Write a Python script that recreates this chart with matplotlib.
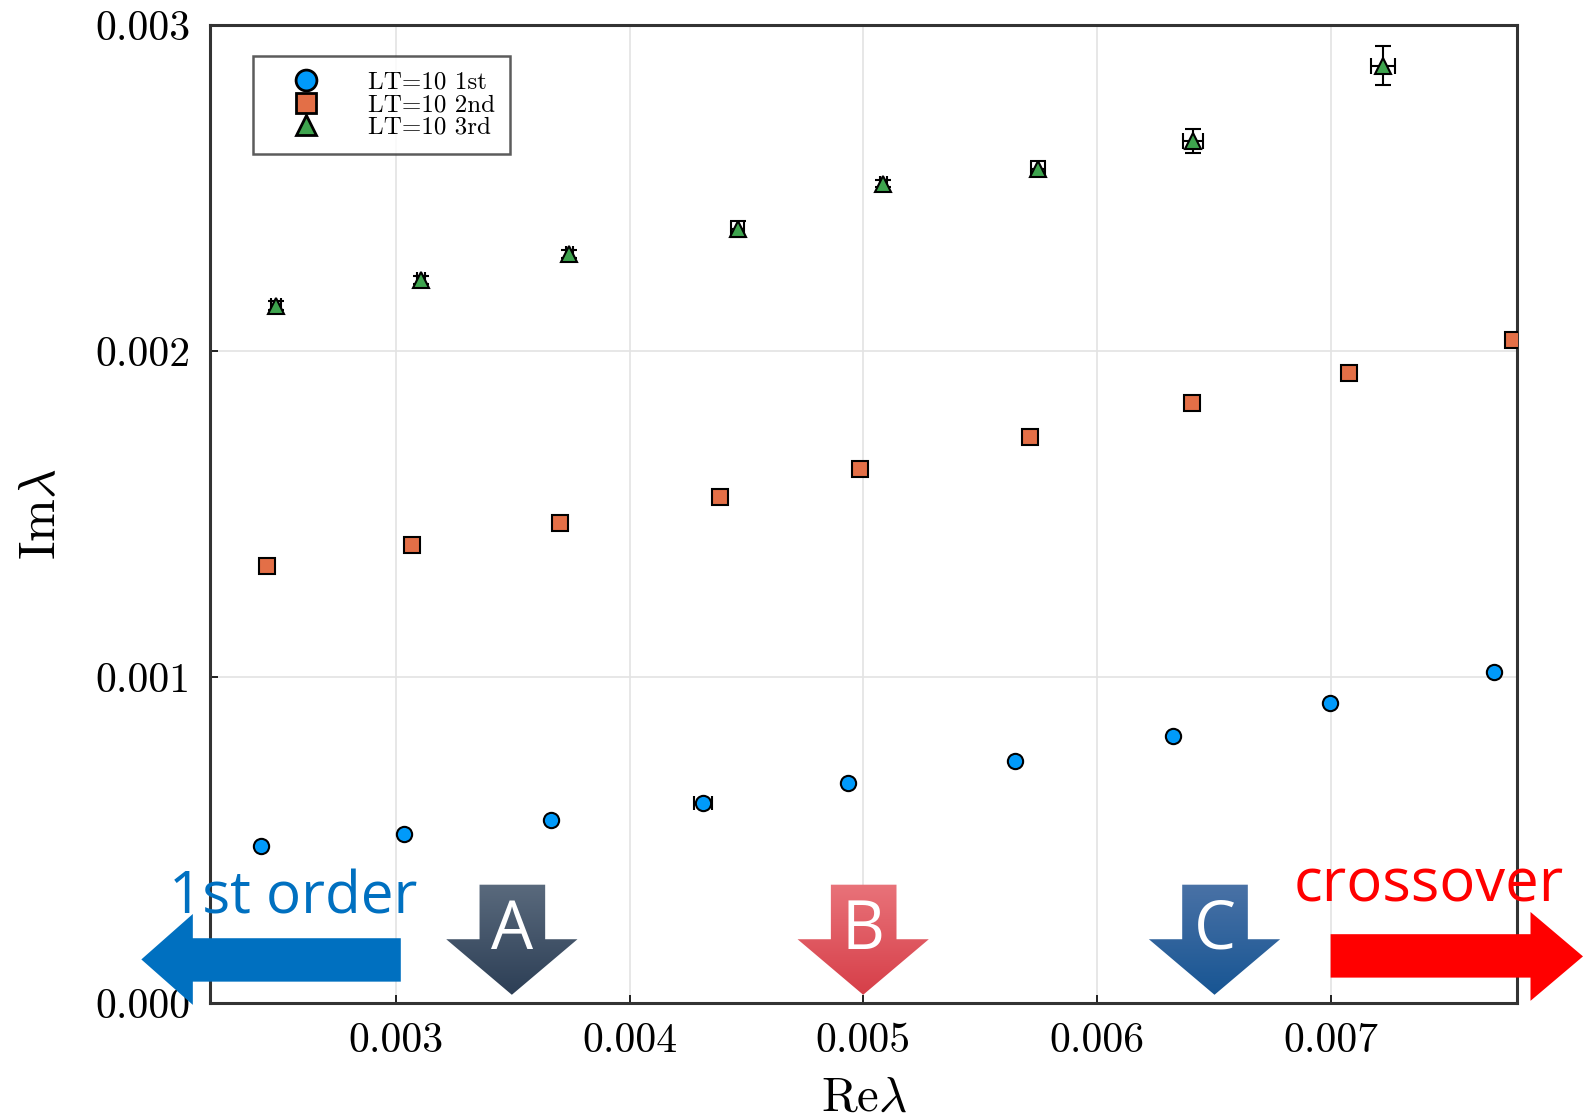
import numpy as np
import matplotlib
matplotlib.use('Agg')
import matplotlib.pyplot as plt
from matplotlib.patches import Polygon
from matplotlib.lines import Line2D
from matplotlib.ticker import FormatStrFormatter

plt.rcParams['font.family'] = 'serif'
plt.rcParams['font.serif'] = ['cmr10', 'DejaVu Serif']
plt.rcParams['mathtext.fontset'] = 'cm'
plt.rcParams['axes.formatter.use_mathtext'] = True

# ===== data =====
re_1st = [0.002421, 0.003035, 0.003665, 0.004313, 0.004935, 0.005648, 0.006326, 0.006996, 0.007700]
im_1st = [0.000483, 0.000517, 0.000560, 0.000613, 0.000675, 0.000743, 0.000820, 0.000920, 0.001015]
re_err_1st = [0.000010, 0.000010, 0.000010, 0.000038, 0.000012, 0.000010, 0.000012, 0.000012, 0.000012]
im_err_1st = [0.000005, 0.000005, 0.000005, 0.000005, 0.000005, 0.000005, 0.000006, 0.000006, 0.000006]

re_2nd = [0.002447, 0.003069, 0.003704, 0.004387, 0.004987, 0.005713, 0.006408, 0.007078, 0.007782]
im_2nd = [0.001341, 0.001406, 0.001474, 0.001551, 0.001638, 0.001737, 0.001842, 0.001932, 0.002034]

re_3rd = [0.002486, 0.003108, 0.003743, 0.004464, 0.005086, 0.005747, 0.006413, 0.007225]
im_3rd = [0.002139, 0.002217, 0.002297, 0.002375, 0.002514, 0.002560, 0.002644, 0.002876]
re_err_3rd = [0.000022, 0.000018, 0.000015, 0.000028, 0.000015, 0.000030, 0.000043, 0.000052]
im_err_3rd = [0.000014, 0.000012, 0.000012, 0.000025, 0.000012, 0.000022, 0.000037, 0.000060]

labels = ['LT=10 1st', 'LT=10 2nd', 'LT=10 3rd']
markers = ['o', 's', '^']
colors = ['#009AFA', '#E36F47', '#3EA44E']
xticks = [0.003, 0.004, 0.005, 0.006, 0.007]
yticks = [0.000, 0.001, 0.002, 0.003]

fig = plt.figure(figsize=(15.83, 11.19), dpi=100)
ax = fig.add_axes([0.1327, 0.1037, 0.8259, 0.8738])

ax.errorbar(re_1st, im_1st, xerr=re_err_1st, yerr=im_err_1st, fmt='o', ms=11,
            mfc=colors[0], mec='black', mew=1.5, ecolor='black', elinewidth=1.5,
            capsize=5, zorder=3)
ax.plot(re_2nd, im_2nd, 's', ms=11, mfc=colors[1], mec='black', mew=1.5, zorder=3)
ax.errorbar(re_3rd, im_3rd, xerr=re_err_3rd, yerr=im_err_3rd, fmt='^', ms=11,
            mfc=colors[2], mec='black', mew=1.5, ecolor='black', elinewidth=1.5,
            capsize=6, zorder=4)

ax.set_xlim(0.002205, 0.0078)
ax.set_ylim(0, 0.003)
ax.set_xticks(xticks)
ax.set_yticks(yticks)
ax.xaxis.set_major_formatter(FormatStrFormatter('%.3f'))
ax.yaxis.set_major_formatter(FormatStrFormatter('%.3f'))
ax.tick_params(direction='in', length=6, width=1.2, labelsize=30, pad=14)
ax.grid(True, color='#e3e3e3', lw=1.2)
ax.set_axisbelow(True)
for s in ax.spines.values():
    s.set_linewidth(2.2)
    s.set_color('#333333')
ax.set_xlabel(r'Re$\lambda$', fontsize=35, labelpad=12)
ax.set_ylabel(r'Im$\lambda$', fontsize=37, labelpad=22)

handles = [Line2D([], [], ls='none', marker=m, ms=15, mfc=c, mec='black', mew=2)
           for m, c in zip(markers, colors)]
leg = ax.legend(handles, labels, loc='upper left', bbox_to_anchor=(0.033, 0.968),
                fontsize=18, frameon=True, fancybox=False, edgecolor='#333333',
                borderpad=0.6, handletextpad=1.0, labelspacing=0.0,
                handlelength=3.0, borderaxespad=0)
leg.get_frame().set_linewidth(1.8)

# ===== overlay annotations (pixel coords of 1568x1108 view) =====
ov = fig.add_axes([0, 0, 1, 1], facecolor='none')
ov.set_xlim(0, 1568)
ov.set_ylim(1108, 0)
ov.axis('off')


def down_arrow(cx, top_c, bot_c, letter):
    pts = [(cx - 32, 876), (cx + 33, 876), (cx + 33, 930), (cx + 65, 930),
           (cx, 985), (cx - 65, 930), (cx - 32, 930)]
    poly = Polygon(pts, closed=True, facecolor='none', edgecolor='none')
    ov.add_patch(poly)
    grad = np.linspace(0, 1, 100).reshape(-1, 1)
    c0 = np.array(matplotlib.colors.to_rgb(top_c))
    c1 = np.array(matplotlib.colors.to_rgb(bot_c))
    img = c0 + (c1 - c0) * grad[:, :, None]
    im = ov.imshow(img, extent=(cx - 66, cx + 66, 986, 875), aspect='auto',
                   interpolation='bilinear', zorder=5)
    im.set_clip_path(poly)
    ov.text(cx, 922, letter, color='white', fontsize=48, family='Open Sans',
            ha='center', va='center', zorder=6)


down_arrow(507, '#5a6a7d', '#2c3e55', 'A')
down_arrow(855, '#e9737a', '#d63e48', 'B')
down_arrow(1203, '#4a72a6', '#175593', 'C')

# 1st order arrow
left_pts = [(397, 929), (191, 929), (191, 905), (140, 950), (191, 995),
            (191, 972), (397, 972)]
ov.add_patch(Polygon(left_pts, closed=True, facecolor='#0070C0',
                     edgecolor='none', zorder=5))
ov.text(290, 905, '1st order', color='#0070C0', fontsize=42, family='Open Sans',
        ha='center', va='baseline', zorder=6)

# crossover arrow
right_pts = [(1318, 925), (1516, 925), (1516, 903), (1568, 947), (1516, 991),
             (1516, 968), (1318, 968)]
ov.add_patch(Polygon(right_pts, closed=True, facecolor='#FF0000',
                     edgecolor='none', zorder=5))
ov.text(1415, 893, 'crossover', color='#FF0000', fontsize=43, family='Open Sans',
        ha='center', va='baseline', zorder=6)

fig.savefig('out.png', dpi=100)
